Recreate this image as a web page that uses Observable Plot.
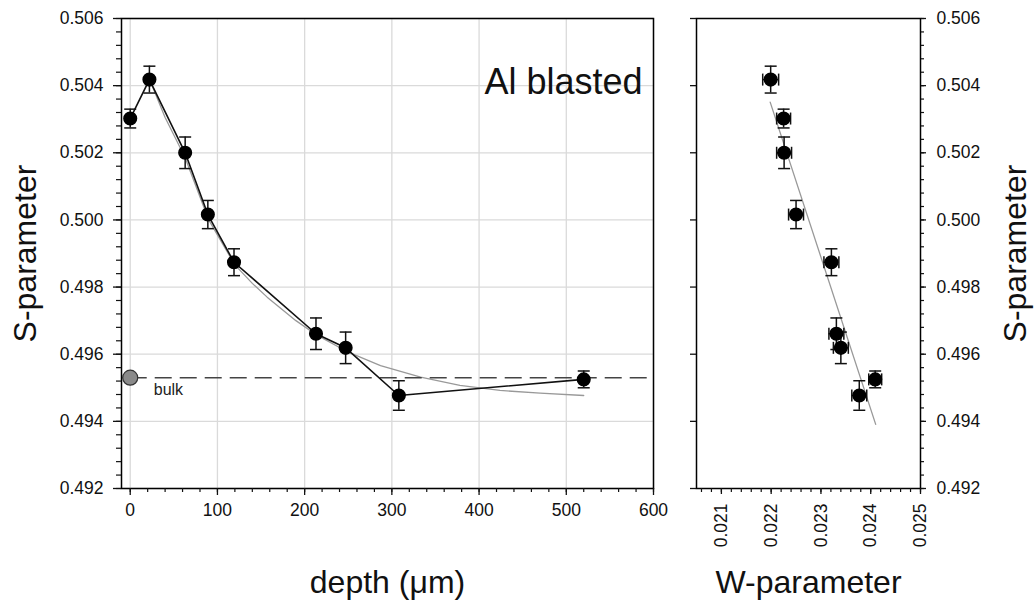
<!DOCTYPE html>
<html><head><meta charset="utf-8">
<script src="https://cdn.jsdelivr.net/npm/d3@7"></script>
<script src="https://cdn.jsdelivr.net/npm/@observablehq/plot@0.6"></script>
<style>
body{margin:0;background:#fff;}
#wrap{position:relative;width:1034px;height:605px;background:#fff;}
#left{position:absolute;left:0;top:0;}
#right{position:absolute;left:660px;top:0;}
svg g[aria-label$="tick label"]{font-size:17.5px !important;}
svg g[aria-label$="tick label"] text{font-size:17.5px !important;}
</style></head><body><div id="wrap"><div id="left"></div><div id="right"></div></div>
<script>
// ---- data ----
const depth  = [0, 22, 63, 89, 119, 213, 247, 308, 520];
const sParam = [0.50302, 0.50418, 0.50200, 0.50016, 0.49874, 0.49661, 0.49619, 0.49477, 0.49525];
const sErr   = [0.00028, 0.00040, 0.00047, 0.00042, 0.00040, 0.00047, 0.00047, 0.00044, 0.00025];
const wParam = [0.02225, 0.02199, 0.02226, 0.02250, 0.02321, 0.02331, 0.02340, 0.02377, 0.02409];
const wErr   = [0.00014, 0.00016, 0.00015, 0.00015, 0.00015, 0.00015, 0.00015, 0.00015, 0.00013];
const fitDepth = [22, 40, 63, 90, 120, 140, 157, 190, 212, 250, 287, 333, 378, 401, 424, 470, 520];
const fitS     = [0.50420, 0.50305, 0.50185, 0.50000, 0.49866, 0.49811, 0.49770, 0.49700, 0.49660, 0.49606, 0.49566, 0.49532, 0.49507, 0.49500, 0.49492, 0.49484, 0.49477];
const bulkS = 0.4953;
const fitW  = [0.02198, 0.02410];
const fitWS = [0.50351, 0.49391];
const yTicks = [0.492, 0.494, 0.496, 0.498, 0.500, 0.502, 0.504, 0.506];
const depthTicks = [0, 100, 200, 300, 400, 500, 600];
const wTicks = [0.021, 0.022, 0.023, 0.024, 0.025];
const title = "Al blasted";

// ---- derived tables ----
const rows = depth.map((d, i) => ({depth: d, s: sParam[i], e: sErr[i], w: wParam[i], we: wErr[i]}));
const fit = fitDepth.map((d, i) => ({depth: d, s: fitS[i]}));
const fitLine = fitW.map((w, i) => ({w, s: fitWS[i]}));
const yMinor = d3.range(0, 36).map(i => +(0.492 + i * 0.0004).toFixed(5));
const depthMinor = d3.range(0, 601, 20);
const wMinor = d3.range(0, 23).map(i => +(0.0206 + i * 0.0002).toFixed(5));

const hCap = {draw(ctx) { ctx.moveTo(-6, 0); ctx.lineTo(6, 0); }};
const vCap = {draw(ctx) { ctx.moveTo(0, -6); ctx.lineTo(0, 6); }};
const font = "'Liberation Sans', Arial, sans-serif";
const fmt3 = d3.format(".3f");
const blank = () => "";
const TF = 17.5;

const left = Plot.plot({
  width: 660, height: 605,
  marginLeft: 121, marginRight: 7, marginTop: 18, marginBottom: 117,
  style: {fontFamily: font, fontSize: TF + "px", color: "#111", background: "transparent", overflow: "visible"},
  x: {domain: [-10, 600]},
  y: {domain: [0.492, 0.506]},
  marks: [
    Plot.gridX(depthTicks, {stroke: "#dadada", strokeOpacity: 1, strokeWidth: 1.3}),
    Plot.gridY(yTicks, {stroke: "#dadada", strokeOpacity: 1, strokeWidth: 1.3}),
    Plot.line(fit, {x: "depth", y: "s", stroke: "#999", strokeWidth: 1.3}),
    Plot.ruleY([bulkS], {x1: 0, x2: 600, stroke: "#444", strokeWidth: 1.5, strokeDasharray: "17,8"}),
    Plot.line(rows, {x: "depth", y: "s", stroke: "#111", strokeWidth: 1.6}),
    Plot.ruleX(rows, {x: "depth", y1: d => d.s - d.e, y2: d => d.s + d.e, stroke: "#111", strokeWidth: 1.5}),
    Plot.dot(rows, {x: "depth", y: d => d.s - d.e, symbol: hCap, fill: "none", stroke: "#111", strokeWidth: 1.5}),
    Plot.dot(rows, {x: "depth", y: d => d.s + d.e, symbol: hCap, fill: "none", stroke: "#111", strokeWidth: 1.5}),
    Plot.dot(rows, {x: "depth", y: "s", r: 6.3, fill: "#000", stroke: "#000"}),
    Plot.dot([bulkS], {x: 0, y: d => d, r: 7.5, fill: "#8a8a8a", stroke: "#333", strokeWidth: 1.2}),
    Plot.text(["bulk"], {x: 27, y: bulkS, text: d => d, textAnchor: "start", dy: 12, fontSize: 16, fill: "#222"}),
    Plot.text([title], {frameAnchor: "top-right", text: d => d, dx: -11, dy: 64, lineAnchor: "middle", textAnchor: "end", fontSize: 36, fill: "#111"}),
    Plot.frame({stroke: "#000", strokeWidth: 1.5}),
    Plot.axisY({ticks: yTicks, tickSize: 8, tickPadding: 10, tickFormat: fmt3, label: null, fontSize: TF, strokeWidth: 1.3}),
    Plot.axisY({ticks: yMinor, tickSize: 5, tickFormat: blank, label: null, strokeWidth: 1.2}),
    Plot.axisX({ticks: depthTicks, tickSize: 7, tickPadding: 8, tickFormat: d3.format("d"), label: null, fontSize: TF, strokeWidth: 1.3}),
    Plot.axisX({ticks: depthMinor, tickSize: 4, tickFormat: blank, label: null, strokeWidth: 1.2}),
    Plot.text(["depth (μm)"], {frameAnchor: "bottom", text: d => d, dy: 94, lineAnchor: "middle", textAnchor: "middle", fontSize: 32, fill: "#111"}),
    Plot.text(["S-parameter"], {frameAnchor: "left", text: d => d, dx: -96, rotate: -90, lineAnchor: "middle", textAnchor: "middle", fontSize: 32, fill: "#111"})
  ]
});
document.getElementById("left").append(left);

const right = Plot.plot({
  width: 374, height: 605,
  marginLeft: 36, marginRight: 114, marginTop: 18, marginBottom: 117,
  style: {fontFamily: font, fontSize: TF + "px", color: "#111", background: "transparent", overflow: "visible"},
  x: {domain: [0.0205, 0.025]},
  y: {domain: [0.492, 0.506]},
  marks: [
    Plot.line(fitLine, {x: "w", y: "s", stroke: "#999", strokeWidth: 1.3}),
    Plot.ruleX(rows, {x: "w", y1: d => d.s - d.e, y2: d => d.s + d.e, stroke: "#111", strokeWidth: 1.5}),
    Plot.dot(rows, {x: "w", y: d => d.s - d.e, symbol: hCap, fill: "none", stroke: "#111", strokeWidth: 1.5}),
    Plot.dot(rows, {x: "w", y: d => d.s + d.e, symbol: hCap, fill: "none", stroke: "#111", strokeWidth: 1.5}),
    Plot.ruleY(rows, {y: "s", x1: d => d.w - d.we, x2: d => d.w + d.we, stroke: "#111", strokeWidth: 1.5}),
    Plot.dot(rows, {x: d => d.w - d.we, y: "s", symbol: vCap, fill: "none", stroke: "#111", strokeWidth: 1.5}),
    Plot.dot(rows, {x: d => d.w + d.we, y: "s", symbol: vCap, fill: "none", stroke: "#111", strokeWidth: 1.5}),
    Plot.dot(rows, {x: "w", y: "s", r: 6.3, fill: "#000", stroke: "#000"}),
    Plot.frame({stroke: "#000", strokeWidth: 1.5}),
    Plot.axisY({anchor: "left", ticks: yTicks, tickSize: 6, tickFormat: blank, label: null, strokeWidth: 1.3}),
    Plot.axisY({anchor: "right", ticks: yTicks, tickSize: 5, tickPadding: 11, tickFormat: fmt3, label: null, fontSize: TF, strokeWidth: 1.3}),
    Plot.axisY({anchor: "right", ticks: yMinor, tickSize: 3, tickFormat: blank, label: null, strokeWidth: 1.2}),
    Plot.axisX({ticks: wTicks, tickSize: 6, tickPadding: 9, tickRotate: -90, tickFormat: fmt3, label: null, fontSize: TF, strokeWidth: 1.3}),
    Plot.axisX({ticks: wMinor, tickSize: 4, tickFormat: blank, label: null, strokeWidth: 1.2}),
    Plot.text(["W-parameter"], {frameAnchor: "bottom", text: d => d, dy: 94, lineAnchor: "middle", textAnchor: "middle", fontSize: 32, fill: "#111"}),
    Plot.text(["S-parameter"], {frameAnchor: "right", text: d => d, dx: 95, rotate: -90, lineAnchor: "middle", textAnchor: "middle", fontSize: 32, fill: "#111"})
  ]
});
document.getElementById("right").append(right);
</script></body></html>
